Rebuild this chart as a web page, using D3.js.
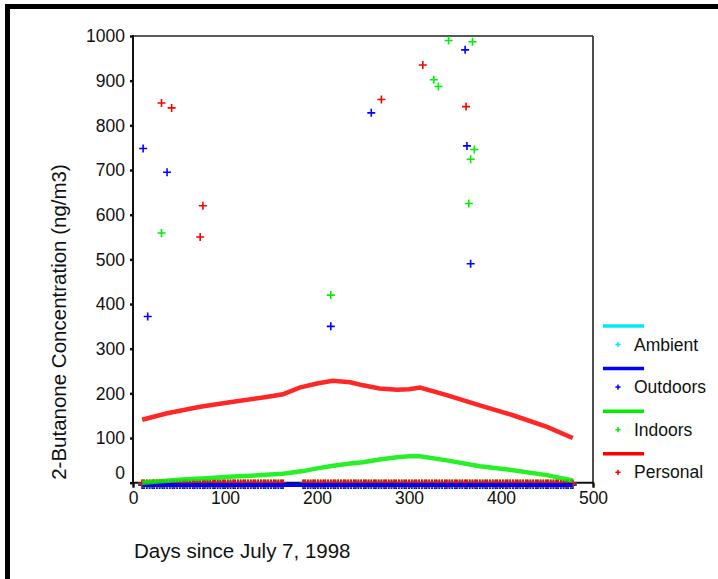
<!DOCTYPE html>
<html>
<head>
<meta charset="utf-8">
<script src="https://cdn.jsdelivr.net/npm/d3@7"></script>
<style>
  body { margin: 0; background: #fff; }
  svg { display: block; }
  text { font-family: "Liberation Sans", Arial, sans-serif; fill: #111; }
</style>
</head>
<body>
<svg id="chart" width="718" height="579"></svg>
<script>
var seriesNames = ["Ambient", "Outdoors", "Indoors", "Personal"];
var seriesColors = ["#00e8ff", "#0000ff", "#00ee00", "#ff0000"];

// high readings (day, ng/m3)
var outdoorsPoints = [[11, 748], [16, 372], [37, 695], [215, 350], [259, 828], [361, 969], [363, 754], [367, 490]];
var indoorsPoints = [[31, 559], [215, 420], [327, 902], [332, 887], [343, 990], [365, 625], [367, 724], [369, 987], [371, 746]];
var personalPoints = [[31, 850], [42, 839], [73, 550], [76, 620], [270, 858], [315, 935], [362, 842]];
var ambientPoints = [];

// sampling days with readings near zero (all four series)
var lowDays = [10, 12, 15, 18, 21, 23, 26, 29, 32, 34, 37, 40, 43, 45, 48, 51, 54, 56, 59, 62, 65, 67, 70,
  73, 76, 78, 81, 84, 87, 89, 92, 95, 98, 100, 103, 106, 109, 111, 114, 117, 120, 122, 125, 128, 131,
  133, 136, 139, 142, 144, 147, 150, 153, 155, 158, 161, 163,
  185, 187, 190, 193, 196, 198, 201, 204, 207, 209, 212, 215, 218, 220, 223, 226, 229, 231, 234, 237,
  240, 242, 245, 248, 251, 253, 256, 259, 262, 264, 267, 270, 273, 275, 278, 281, 284, 286, 289, 292,
  295, 297, 300, 303, 306, 308, 311, 314, 317, 319, 322, 325, 328, 330, 333, 336, 339, 341, 344, 347,
  350, 352, 355, 358, 361, 363, 366, 369, 372, 374, 377, 380, 383, 385, 388, 391, 394, 396, 399, 402,
  405, 407, 410, 413, 416, 418, 421, 424, 427, 429, 432, 435, 438, 440, 443, 446, 449, 451, 454, 457,
  460, 462, 465, 468, 471, 473, 476, 478];
var lowLevel = [-4, -5, -2, -2];

// smoothed fits
var ambientFit = [[10, -5], [100, -5], [200, -5], [300, -5], [400, -5], [478, -5]];
var outdoorsFit = [[10, -5], [100, -5], [200, -5], [300, -5], [400, -5], [478, -5]];
var indoorsFit = [[10, 0], [30, 3], [54, 7], [80, 10], [109, 14], [140, 17], [163, 20], [185, 26], [200, 32],
  [214, 37], [236, 43], [250, 46], [268, 52], [287, 57], [300, 59], [312, 59], [341, 50], [377, 37],
  [413, 28], [450, 17], [478, 5]];
var personalFit = [[10, 141], [36, 155], [73, 170], [109, 181], [145, 192], [163, 198], [181, 213], [200, 222],
  [217, 228], [236, 225], [250, 218], [268, 211], [287, 208], [300, 209], [312, 213], [341, 196],
  [377, 173], [413, 151], [450, 125], [478, 100]];

var xTicks = [0, 100, 200, 300, 400, 500];
var yTicks = [0, 100, 200, 300, 400, 500, 600, 700, 800, 900, 1000];

var svg = d3.select("#chart");

// outer frame (runs past the right and bottom edges)
svg.append("rect")
  .attr("x", 7.5).attr("y", 6.5)
  .attr("width", 740).attr("height", 600)
  .attr("fill", "none").attr("stroke", "#000").attr("stroke-width", 5);

var x = d3.scaleLinear().domain([0, 500]).range([133, 593]);
var y = d3.scaleLinear().domain([0, 1000]).range([482.7, 36]);

// box
svg.append("line").attr("x1", 133).attr("x2", 593).attr("y1", y(1000)).attr("y2", y(1000))
  .attr("stroke", "#222").attr("stroke-width", 1.6);
svg.append("line").attr("x1", 593).attr("x2", 593).attr("y1", y(1000)).attr("y2", y(0))
  .attr("stroke", "#222").attr("stroke-width", 1.6);

// axes
var yAxis = svg.append("g")
  .attr("transform", "translate(133,0)")
  .call(d3.axisLeft(y).tickValues(yTicks).tickSize(3).tickPadding(5).tickFormat(d3.format("d")));
yAxis.select(".domain").remove();
yAxis.selectAll(".tick line").attr("stroke", "#111").attr("stroke-width", 2.5);
yAxis.selectAll(".tick text")
  .style("font-size", "17.5px")
  .attr("dy", function (d) { return d === 0 ? "-0.25em" : "0.34em"; });
svg.append("line").attr("x1", 133).attr("x2", 133).attr("y1", y(1000) - 1).attr("y2", y(0))
  .attr("stroke", "#111").attr("stroke-width", 2);

var xAxis = svg.append("g")
  .attr("transform", "translate(0," + y(0) + ")")
  .call(d3.axisBottom(x).tickValues(xTicks).tickSize(5).tickPadding(4).tickFormat(d3.format("d")));
xAxis.select(".domain").remove();
xAxis.selectAll(".tick line").attr("stroke", "#111").attr("stroke-width", 2.5);
xAxis.selectAll(".tick text").style("font-size", "17.5px");
svg.append("line").attr("x1", 132).attr("x2", 594).attr("y1", y(0)).attr("y2", y(0))
  .attr("stroke", "#111").attr("stroke-width", 2);

var plus = "M-4,0H4M0,-4V4";
var g = svg.append("g");

// near-zero readings band
[0, 1, 2, 3].forEach(function (i) {
  g.append("g").selectAll("path")
    .data(lowDays)
    .enter().append("path")
    .attr("d", plus)
    .attr("transform", function (d) { return "translate(" + x(d) + "," + y(lowLevel[i]) + ")"; })
    .attr("stroke", seriesColors[i])
    .attr("stroke-width", 1.8)
    .attr("fill", "none");
});

var line = d3.line().x(function (d) { return x(d[0]); }).y(function (d) { return y(d[1]); });
[[ambientFit, 0], [outdoorsFit, 1], [indoorsFit, 2], [personalFit, 3]].forEach(function (f) {
  g.append("path")
    .attr("d", line(f[0]))
    .attr("fill", "none")
    .attr("stroke", seriesColors[f[1]])
    .attr("stroke-opacity", f[1] > 1 ? 0.85 : 1)
    .attr("stroke-width", f[1] > 1 ? 4.5 : 4);
});

[[ambientPoints, 0], [outdoorsPoints, 1], [indoorsPoints, 2], [personalPoints, 3]].forEach(function (s) {
  g.append("g").selectAll("path")
    .data(s[0])
    .enter().append("path")
    .attr("d", plus)
    .attr("transform", function (d) { return "translate(" + x(d[0]) + "," + y(d[1]) + ")"; })
    .attr("stroke", seriesColors[s[1]])
    .attr("stroke-width", 1.6)
    .attr("fill", "none");
});

// titles
svg.append("text")
  .attr("x", 134).attr("y", 558)
  .style("font-size", "20.5px")
  .text("Days since July 7, 1998");
svg.append("text")
  .attr("transform", "translate(66,322) rotate(-90)")
  .attr("text-anchor", "middle")
  .style("font-size", "20.5px")
  .text("2-Butanone Concentration (ng/m3)");

// legend
var legend = svg.append("g").attr("transform", "translate(603,326)");
var item = legend.selectAll("g")
  .data(seriesNames)
  .enter().append("g")
  .attr("transform", function (d, i) { return "translate(0," + (i * 42.6) + ")"; });
item.append("line")
  .attr("x1", 0).attr("x2", 41).attr("y1", 0).attr("y2", 0)
  .attr("stroke", function (d, i) { return seriesColors[i]; })
  .attr("stroke-width", 3.5);
item.append("path")
  .attr("d", "M-2.6,0H2.6M0,-2.6V2.6")
  .attr("transform", "translate(15,18.5)")
  .attr("stroke", function (d, i) { return seriesColors[i]; })
  .attr("stroke-width", 1.5);
item.append("text")
  .attr("x", 31).attr("y", 24.5)
  .style("font-size", "17.5px")
  .text(function (d) { return d; });
</script>
</body>
</html>
